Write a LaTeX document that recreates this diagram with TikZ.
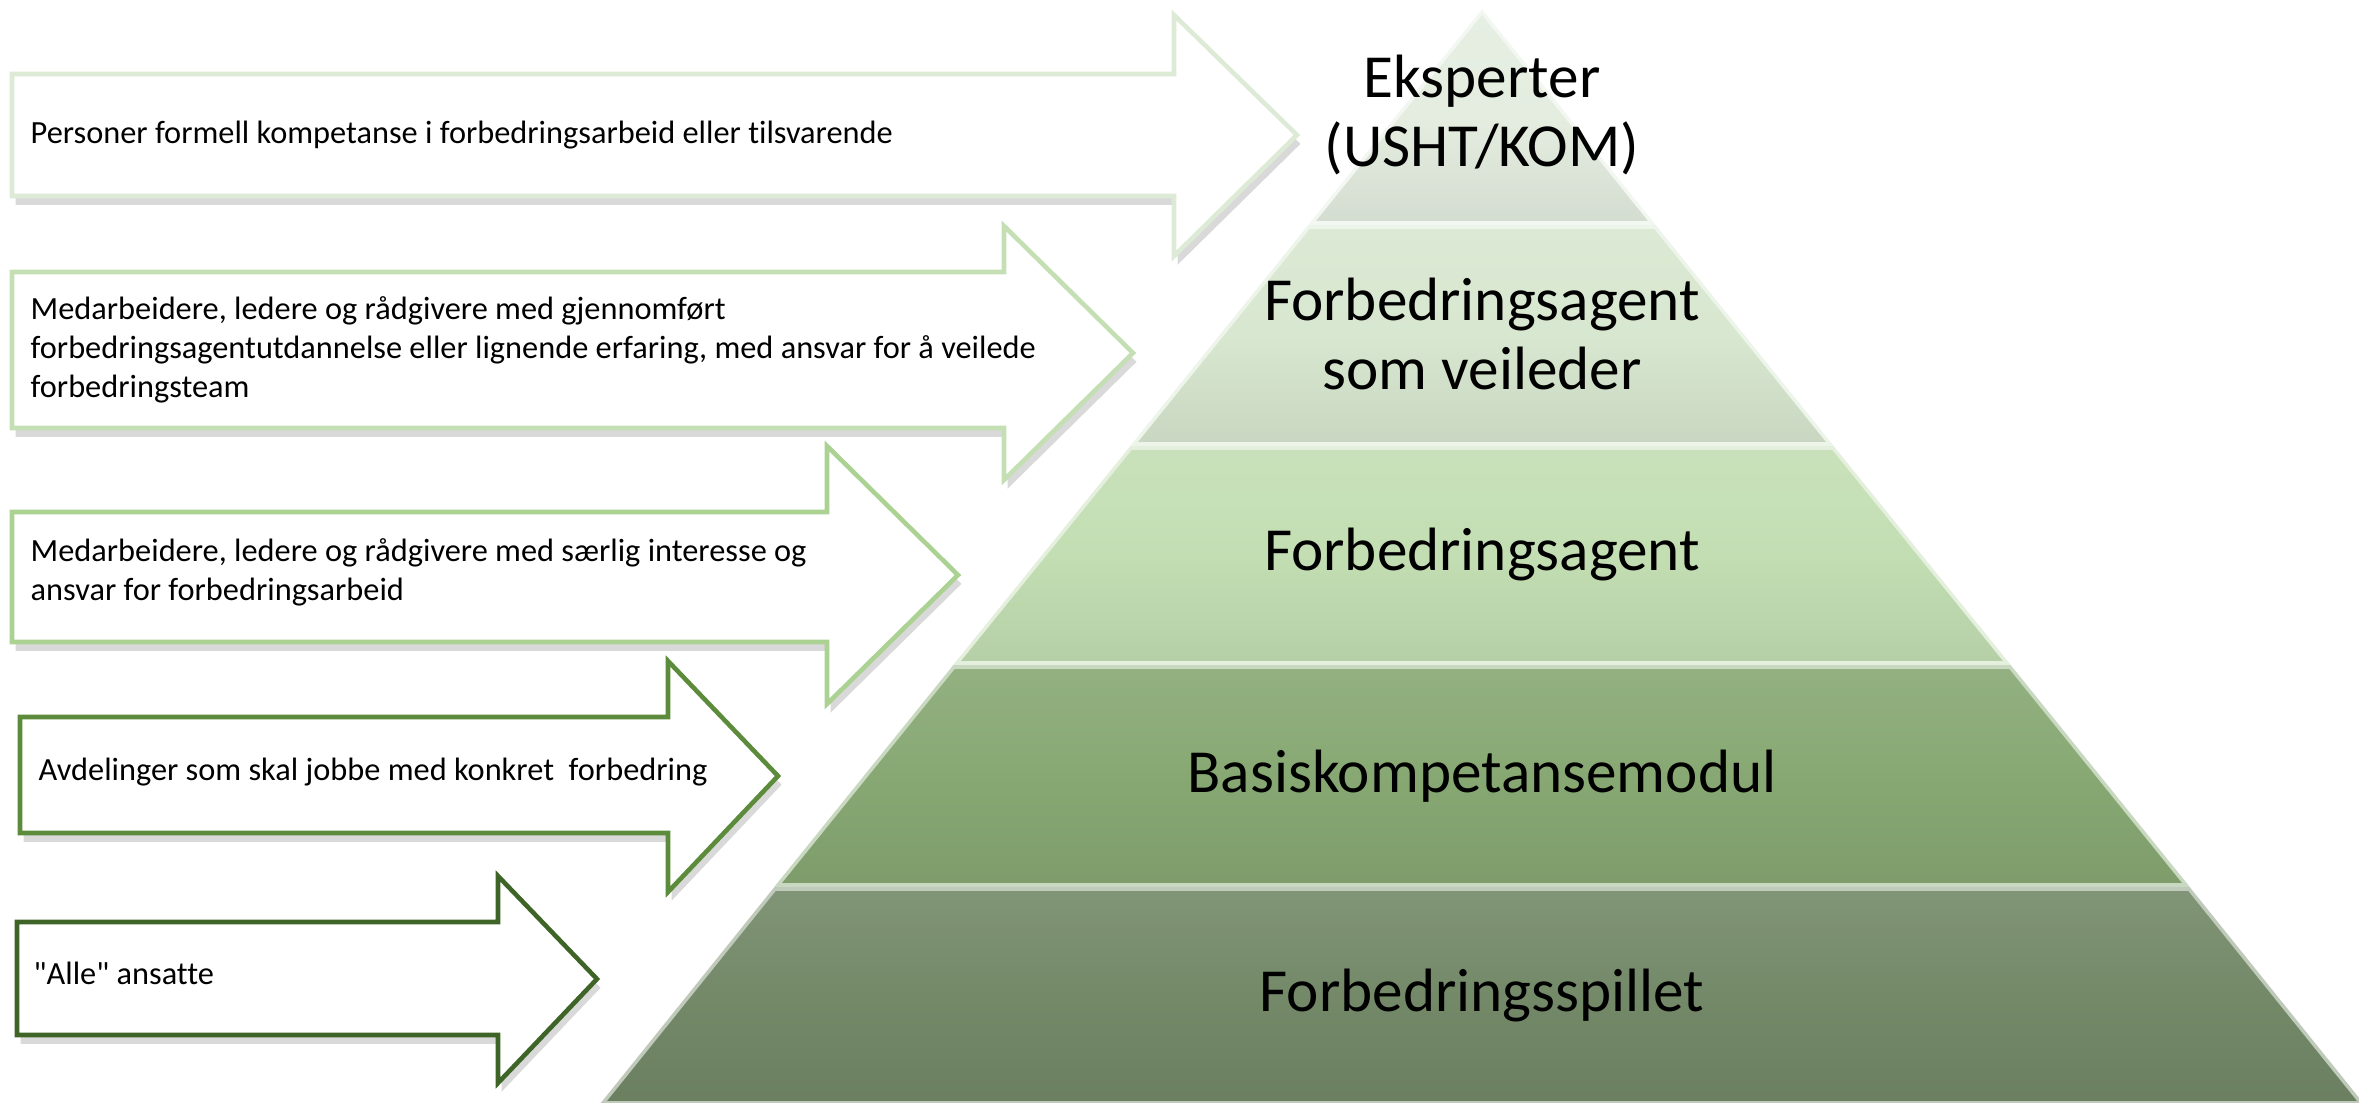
\documentclass[tikz,border=0pt]{standalone}
\usepackage{fontspec}
\setmainfont[Ligatures={NoCommon,TeXOff}]{Carlito}
\usetikzlibrary{shadows}

\definecolor{lvl1}{HTML}{E4EDE0}
\definecolor{lvl2}{HTML}{D8E7D0}
\definecolor{lvl3}{HTML}{C3DEB3}
\definecolor{lvl4}{HTML}{87A873}
\definecolor{lvl5}{HTML}{738968}
\definecolor{rim1}{HTML}{DDEBD6}
\definecolor{rim2}{HTML}{C5DFB5}
\definecolor{rim3}{HTML}{ACD293}
\definecolor{rim4}{HTML}{5B8B3B}
\definecolor{rim5}{HTML}{3F6427}

\begin{document}
\begin{tikzpicture}[x=0.01cm,y=-0.01cm,
    arrowbox/.style={fill=white,line width=1.3pt,line join=miter,
      drop shadow={shadow xshift=1pt,shadow yshift=-2.5pt,opacity=.3}},
    band/.style={draw=white!55!#1,line width=1pt,top color=#1!90!white,bottom color=#1!93!black,middle color=#1},
    lefttext/.style={anchor=west,align=left,inner sep=0pt,font=\fontsize{9.2}{11.1}\selectfont},
    leveltext/.style={align=center,font=\fontsize{17.4}{19.6}\selectfont}]
    \useasboundingbox (0,0) rectangle (2359,1103);

    % pyramid, top to bottom
    \shade[band=lvl1] (1482,12) -- (1652,223) -- (1312,223) -- cycle;
    \shade[band=lvl2] (1309,227) -- (1655,227) -- (1830,444) -- (1134,444) -- cycle;
    \shade[band=lvl3] (1131,448) -- (1833,448) -- (2007,663) -- (957,663) -- cycle;
    \shade[band=lvl4] (954,667) -- (2010,667) -- (2186,885) -- (778,885) -- cycle;
    \shade[band=lvl5] (775,889) -- (2189,889) -- (2361,1103) -- (603,1103) -- cycle;

    \node[leveltext] (eksperter) at (1482,115) {Eksperter\\(USHT/KOM)};
    \node[leveltext] (veileder) at (1482,334) {Forbedringsagent\\som veileder};
    \node[leveltext] (agent) at (1482,555) {Forbedringsagent};
    \node[leveltext] (basis) at (1482,776) {Basiskompetansemodul};
    \node[leveltext] (spill) at (1482,996) {Forbedringsspillet};

    % arrows pointing into the pyramid
    \draw[arrowbox,draw=rim1] (12,74) -- (1174,74) -- (1174,15) -- (1297,135) -- (1174,256) -- (1174,196) -- (12,196) -- cycle;
    \draw[arrowbox,draw=rim2] (12,272) -- (1004,272) -- (1004,226) -- (1133,353) -- (1004,480) -- (1004,428) -- (12,428) -- cycle;
    \draw[arrowbox,draw=rim3] (12,512) -- (827,512) -- (827,446) -- (958,575) -- (827,704) -- (827,642) -- (12,642) -- cycle;
    \draw[arrowbox,draw=rim4] (20,717) -- (668,717) -- (668,661) -- (778,776) -- (668,892) -- (668,833) -- (20,833) -- cycle;
    \draw[arrowbox,draw=rim5] (17,922) -- (498,922) -- (498,876) -- (597,979) -- (498,1083) -- (498,1035) -- (17,1035) -- cycle;

    \node[lefttext] (formell) at (30,135) {Personer formell kompetanse i forbedringsarbeid eller tilsvarende};
    \node[lefttext] (veilede) at (30,350) {Medarbeidere, ledere og rådgivere med gjennomført\\forbedringsagentutdannelse eller lignende erfaring, med ansvar for å veilede\\forbedringsteam};
    \node[lefttext] (interesse) at (30,572) {Medarbeidere, ledere og rådgivere med særlig interesse og\\ansvar for forbedringsarbeid};
    \node[lefttext] (avdelinger) at (38,772) {Avdelinger som skal jobbe med konkret~ forbedring};
    \node[lefttext] (alle) at (33,973) {"Alle" ansatte};
\end{tikzpicture}
\end{document}
